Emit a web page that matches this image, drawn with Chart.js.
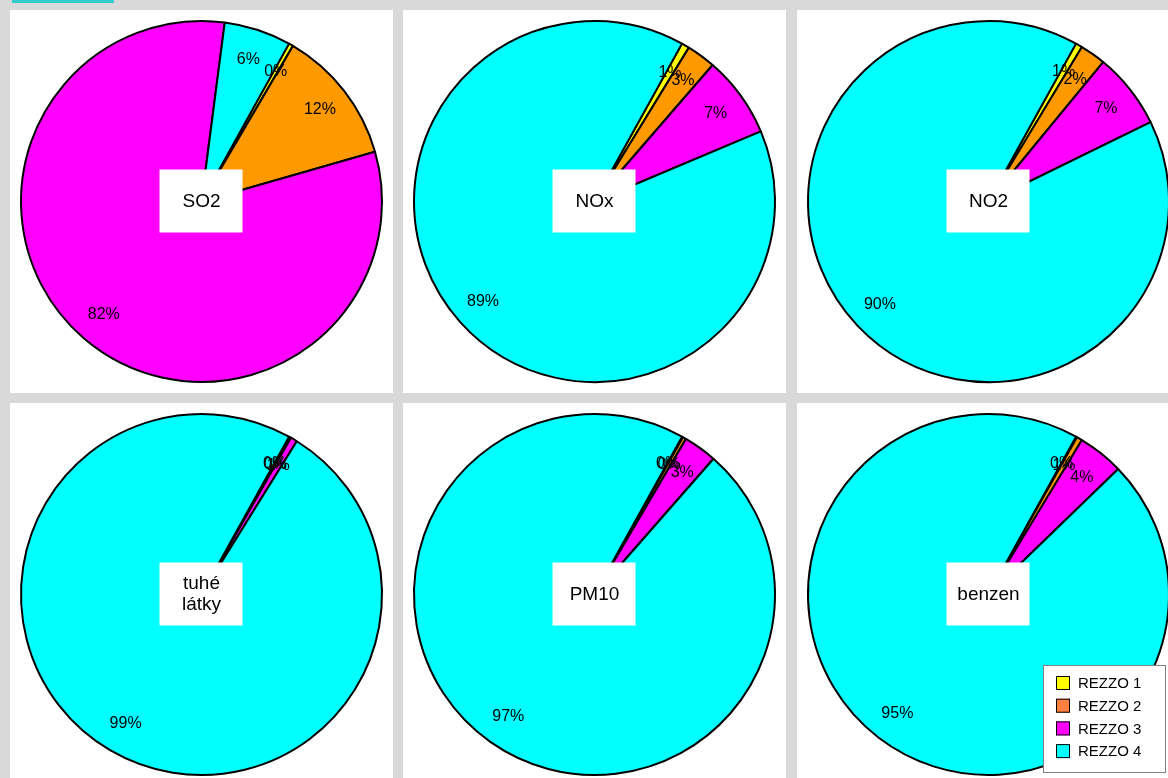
<!DOCTYPE html>
<html>
<head>
<meta charset="utf-8">
<script src="https://cdn.jsdelivr.net/npm/chart.js@4/dist/chart.umd.min.js"></script>
<style>
body{margin:0;background:#d9d9d9;width:1168px;height:778px;overflow:hidden;position:relative;font-family:Arial,"Liberation Sans",sans-serif}
.panel{position:absolute;width:383px;height:383px;background:#fff}
.topbar{position:absolute;left:12px;top:0;width:102px;height:3px;background:#33cccc}
</style>
</head>
<body>
<div class="topbar"></div>
<div class="panel" style="left:10px;top:10px"><canvas id="c0" width="383" height="383"></canvas></div>
<div class="panel" style="left:403px;top:10px"><canvas id="c1" width="383" height="383"></canvas></div>
<div class="panel" style="left:797px;top:10px"><canvas id="c2" width="383" height="383"></canvas></div>
<div class="panel" style="left:10px;top:403px"><canvas id="c3" width="383" height="383"></canvas></div>
<div class="panel" style="left:403px;top:403px"><canvas id="c4" width="383" height="383"></canvas></div>
<div class="panel" style="left:797px;top:403px"><canvas id="c5" width="383" height="383"></canvas></div>
<script>
var seriesNames = ['REZZO 1', 'REZZO 2', 'REZZO 3', 'REZZO 4']
var sliceColors = ['#ffff00', '#ff9900', '#ff00ff', '#00ffff']
var legendColors = ['#ffff00', '#ff8040', '#ff00ff', '#00ffff']

var titles = [['SO2'], ['NOx'], ['NO2'], ['tuhé', 'látky'], ['PM10'], ['benzen']]

// podily zdroju v %
var so2 = [0.4, 12.1, 81.5, 6.0]
var nox = [0.7, 2.6, 7.3, 89.4]
var no2 = [0.6, 2.3, 6.8, 90.3]
var tuheLatky = [0.1, 0.1, 0.6, 99.2]
var pm10 = [0.1, 0.3, 3.0, 96.6]
var benzen = [0.1, 0.5, 4.1, 95.3]

var allData = [so2, nox, no2, tuheLatky, pm10, benzen]

//percent labels inside slices + white title box in the middle
var pieLabels = {
    id: 'pieLabels',
    afterDatasetsDraw(chart){
        var ctx = chart.ctx
        var meta = chart.getDatasetMeta(0)
        var values = chart.data.datasets[0].data
        var total = values.reduce((a, b) => a + b, 0)
        ctx.save()
        ctx.font = '16px Arial, "Liberation Sans", sans-serif'
        ctx.fillStyle = '#000'
        ctx.textAlign = 'center'
        ctx.textBaseline = 'middle'
        meta.data.forEach((arc, i) => {
            var p = arc.getProps(['x', 'y', 'startAngle', 'endAngle', 'outerRadius'], true)
            var mid = (p.startAngle + p.endAngle) / 2
            var r = p.outerRadius * 0.83
            ctx.fillText(Math.round(values[i] / total * 100) + '%', p.x + Math.cos(mid) * r, p.y + Math.sin(mid) * r)
        })
        var c = meta.data[0]
        ctx.fillStyle = '#fff'
        ctx.fillRect(c.x - 42, c.y - 32, 83, 63)
        ctx.fillStyle = '#000'
        ctx.font = '19px Arial, "Liberation Sans", sans-serif'
        var lines = chart.options.plugins.pieLabels.title
        var lh = 21
        lines.forEach((t, k) => {
            ctx.fillText(t, c.x, c.y + (k - (lines.length - 1) / 2) * lh)
        })
        ctx.restore()
    }
}

var legendBox = {
    id: 'legendBox',
    afterDraw(chart){
        var ctx = chart.ctx
        var x = 246, y = 262
        ctx.save()
        ctx.fillStyle = '#fff'
        ctx.fillRect(x, y, 123, 108)
        ctx.strokeStyle = '#808080'
        ctx.lineWidth = 1
        ctx.strokeRect(x + 0.5, y + 0.5, 122, 107)
        ctx.font = '15px Arial, "Liberation Sans", sans-serif'
        ctx.textBaseline = 'middle'
        ctx.textAlign = 'left'
        for(var i = 0; i < seriesNames.length; i++){
            var cy = y + 18 + i * 22.7
            ctx.fillStyle = legendColors[i]
            ctx.fillRect(x + 13, cy - 7, 14, 14)
            ctx.strokeStyle = '#000'
            ctx.strokeRect(x + 13.5, cy - 6.5, 13, 13)
            ctx.fillStyle = '#000'
            ctx.fillText(seriesNames[i], x + 35, cy + 1)
        }
        ctx.restore()
    }
}

for(var n = 0; n < allData.length; n++){
    new Chart(document.getElementById('c' + n), {
        type: 'pie',
        data: {
            labels: seriesNames,
            datasets: [{
                data: allData[n],
                backgroundColor: sliceColors,
                borderColor: '#000',
                borderWidth: 2
            }]
        },
        options: {
            responsive: false,
            animation: false,
            rotation: 29,
            layout: {padding: 10},
            plugins: {
                legend: {display: false},
                tooltip: {enabled: false},
                pieLabels: {title: titles[n]}
            }
        },
        plugins: n == 5 ? [pieLabels, legendBox] : [pieLabels]
    })
}
</script>
</body>
</html>
